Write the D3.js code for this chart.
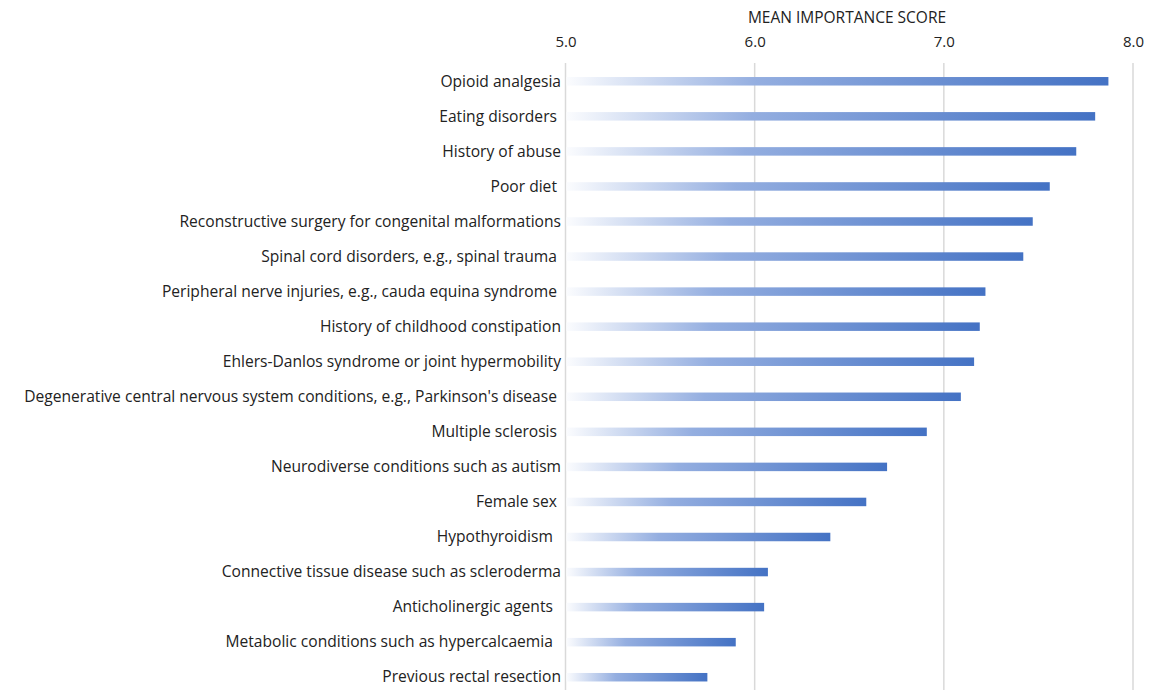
<html>
<script src='https://d3js.org/d3.v7.min.js'></script>
<style>
body {margin:0; background:#fff;}
text {font-family: 'Open Sans', sans-serif; fill:#222;}
</style>
<body>
<svg width=1150 height=690></svg>
<script>
var categories = ['Opioid analgesia','Eating disorders ','History of abuse','Poor diet ',
  'Reconstructive surgery for congenital malformations','Spinal cord disorders, e.g., spinal trauma ',
  'Peripheral nerve injuries, e.g., cauda equina syndrome ','History of childhood constipation',
  'Ehlers-Danlos syndrome or joint hypermobility',"Degenerative central nervous system conditions, e.g., Parkinson's disease ",
  'Multiple sclerosis ','Neurodiverse conditions such as autism','Female sex ','Hypothyroidism  ',
  'Connective tissue disease such as scleroderma','Anticholinergic agents  ','Metabolic conditions such as hypercalcaemia  ',
  'Previous rectal resection'];
var scores = [7.87,7.80,7.70,7.56,7.47,7.42,7.22,7.19,7.16,7.09,6.91,6.70,6.59,6.40,6.07,6.05,5.90,5.75];
var ticks = [5,6,7,8];

var svg = d3.select('svg');
var xs = d3.scaleLinear().domain([5,8]).range([565.5,1133]);
var ys = d3.scaleBand().domain(categories).range([63.5,694.5]);

// gradient, white on the left to blue at the bar end
var grad = svg.append('defs').append('linearGradient').attr('id','barGrad')
  .attr('x1','0%').attr('x2','100%').attr('y1','0%').attr('y2','0%');
grad.append('stop').attr('offset','0%').attr('stop-color','#fbfcfe');
grad.append('stop').attr('offset','35%').attr('stop-color','#94aee0');
grad.append('stop').attr('offset','100%').attr('stop-color','#4472c4');

// gridlines
svg.append('g').selectAll('line').data(ticks).enter().append('line')
  .attr('x1',d=>xs(d)).attr('x2',d=>xs(d))
  .attr('y1',63).attr('y2',690)
  .attr('stroke','#d9d9d9').attr('stroke-width',1.5);

// bars
svg.append('g').selectAll('rect').data(scores).enter().append('rect')
  .attr('x',xs(5)+1)
  .attr('y',(d,i)=>ys(categories[i])+ys.bandwidth()/2-4)
  .attr('width',d=>xs(d)-xs(5)-1)
  .attr('height',8.5)
  .attr('fill','url(#barGrad)');

// top axis
var axis = d3.axisTop(xs).tickValues(ticks).tickFormat(d3.format('.1f')).tickSize(0);
var ax = svg.append('g').attr('transform','translate(0,50)').call(axis);
ax.select('.domain').remove();
ax.selectAll('text').style('font-size','15px').style('font-family',"'Open Sans', sans-serif").attr('fill','#222');

svg.append('text').attr('x',847).attr('y',23).attr('text-anchor','middle')
  .style('font-size','15.5px').text('MEAN IMPORTANCE SCORE');

// category labels
svg.append('g').selectAll('text').data(categories).enter().append('text')
  .attr('x',561).attr('y',d=>ys(d)+ys.bandwidth()/2+5.5)
  .attr('text-anchor','end').style('font-size','15.6px').style('white-space','pre')
  .attr('xml:space','preserve')
  .text(d=>d);
</script>
</body>
</html>
